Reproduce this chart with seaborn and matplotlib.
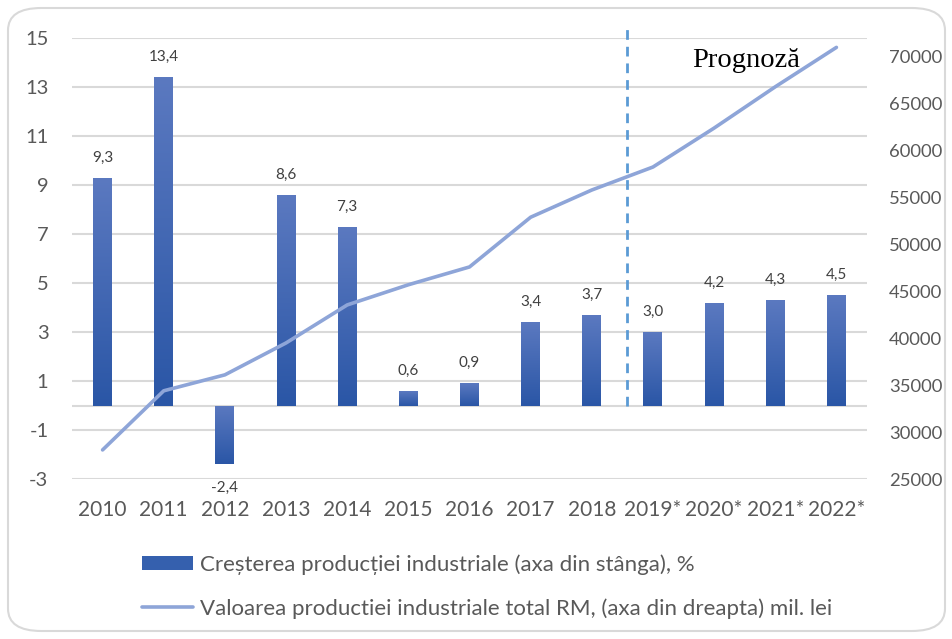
import numpy as np
import pandas as pd
import matplotlib
matplotlib.use("Agg")
import matplotlib.pyplot as plt
from matplotlib.colors import LinearSegmentedColormap
from matplotlib.patches import FancyBboxPatch, Patch
from matplotlib.lines import Line2D
import seaborn as sns

years = ["2010", "2011", "2012", "2013", "2014", "2015", "2016", "2017", "2018",
         "2019*", "2020*", "2021*", "2022*"]
growth = [9.3, 13.4, -2.4, 8.6, 7.3, 0.6, 0.9, 3.4, 3.7, 3.0, 4.2, 4.3, 4.5]
value_total = [28100, 34400, 36100, 39500, 43550, 45700, 47600, 52900, 55800,
               58250, 62400, 66800, 71000]
left_ticks = [-3, -1, 1, 3, 5, 7, 9, 11, 13, 15]
right_ticks = [25000, 30000, 35000, 40000, 45000, 50000, 55000, 60000, 65000, 70000]
legend_labels = ["Creșterea producției industriale (axa din stânga), %",
                 "Valoarea productiei industriale total RM, (axa din dreapta) mil. lei"]
forecast_label = "Prognoză"

df = pd.DataFrame({"year": years, "growth": growth, "value": value_total})

sns.set_theme(style="white")
plt.rcParams["font.family"] = ["Lato", "DejaVu Sans"]

W, H = 952, 639
fig = plt.figure(figsize=(W / 100, H / 100), dpi=100)
ax = fig.add_axes([72 / W, 1 - 479 / H, (867 - 72) / W, (479 - 38) / H])

# rounded border
border = FancyBboxPatch((8 / W, 8 / H), (945 - 8) / W, (631 - 8) / H,
                        boxstyle="round,pad=0,rounding_size=0.035",
                        transform=fig.transFigure, facecolor="none",
                        edgecolor="#D9D9D9", linewidth=1.5, zorder=0)
fig.patches.append(border)

tick_col = "#595959"
grid_col = "#D9D9D9"
bar_light = "#5B79C0"
bar_dark = "#2A56A6"
line_col = "#8EA5D8"

sns.barplot(data=df, x="year", y="growth", ax=ax, width=0.31,
            color=bar_dark, saturation=1, zorder=3)

cmap = LinearSegmentedColormap.from_list("bar", [bar_light, bar_dark])
grad = np.linspace(0, 1, 256).reshape(-1, 1)
for p in ax.patches:
    x0, y0 = p.get_x(), p.get_y()
    w, h = p.get_width(), p.get_height()
    yb, yt = min(y0, y0 + h), max(y0, y0 + h)
    im = ax.imshow(grad, extent=[x0, x0 + w, yb, yt], aspect="auto",
                   cmap=cmap, zorder=3, interpolation="bilinear")
    im.set_clip_path(p)
    p.set_facecolor("none")
    p.set_edgecolor("none")

# data labels
for i, v in enumerate(growth):
    off = 14.5 if v >= 0 else -17
    ax.annotate(f"{v:.1f}".replace(".", ","), (i, v), xytext=(0, off),
                textcoords="offset points", ha="center", va="center",
                fontsize=11, color="#404040", zorder=5)

ax.set_xlim(-0.5, len(years) - 0.5)
ax.set_ylim(-3, 15)
ax.set_yticks(left_ticks)
ax.set_yticklabels([str(t) for t in left_ticks])
for t in left_ticks:
    ax.axhline(t, color=grid_col, lw=1.5, zorder=1)
ax.axhline(0, color=grid_col, lw=1.5, zorder=2)
for s in ax.spines.values():
    s.set_visible(False)
ax.tick_params(axis="y", length=0, pad=17, labelsize=14.5, labelcolor=tick_col)
ax.tick_params(axis="x", length=0, pad=15, labelsize=15, labelcolor=tick_col)
ax.set_xlabel("")
ax.set_ylabel("")

# forecast separator
ax.plot([8.58, 8.58], [0, 15.45], color="#5B9BD5", lw=2, ls=(0, (3.5, 2.5)),
        clip_on=False, zorder=4)

ax2 = ax.twinx()
sns.lineplot(data=df, x="year", y="value", ax=ax2, color=line_col, lw=2.6,
             sort=False, zorder=5)
ax2.set_ylim(25000, 72000)
ax2.set_yticks(right_ticks)
ax2.set_yticklabels([str(t) for t in right_ticks])
ax2.tick_params(axis="y", length=0, pad=16, labelsize=13.3, labelcolor=tick_col)
for s in ax2.spines.values():
    s.set_visible(False)
ax2.set_ylabel("")
ax2.grid(False)
ax.set_xlim(-0.5, len(years) - 0.5)

fig.text(692 / W, 1 - 67 / H, forecast_label, fontsize=20.5,
         family=["Liberation Serif", "DejaVu Serif"], color="black", va="baseline")

handles = [Patch(facecolor="#3560AE", edgecolor="none"),
           Line2D([0], [0], color=line_col, lw=2.6)]
fig.legend(handles, legend_labels, loc="center left",
           bbox_to_anchor=(142 / W, 1 - 586.5 / H), frameon=False,
           borderaxespad=0, borderpad=0, handlelength=2.3, handleheight=0.65,
           handletextpad=0.3, labelspacing=1.05, fontsize=16, labelcolor=tick_col)

fig.savefig("out.png", dpi=100)
